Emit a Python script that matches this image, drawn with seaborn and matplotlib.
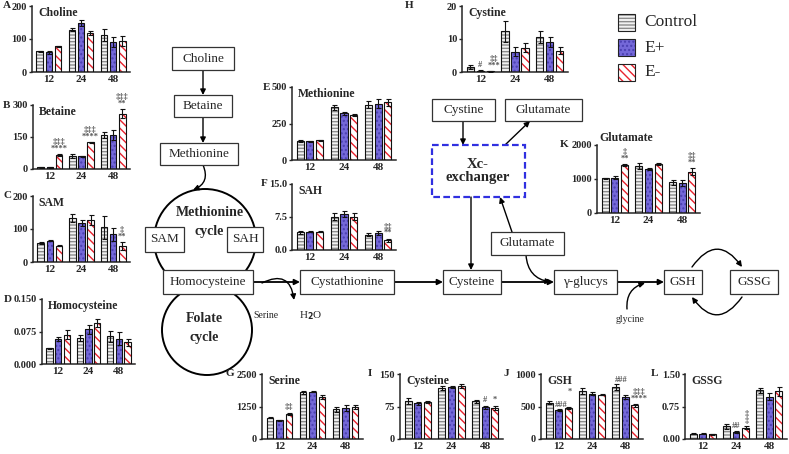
import numpy as np
import pandas as pd
import matplotlib
matplotlib.use("Agg")
import matplotlib.pyplot as plt
from matplotlib.patches import Rectangle, Circle
import seaborn as sns

# ---- data (means and SEM), order: 12 h, 24 h, 48 h ----
times = ["12", "24", "48"]
groups = ["Control", "E+", "E-"]

choline_ctrl, choline_ep, choline_em = [63, 128, 113], [60, 148, 91], [78, 118, 93]
choline_err = [[2, 5, 18], [5, 10, 15], [2, 5, 15]]

betaine_ctrl, betaine_ep, betaine_em = [8, 60, 160], [8, 60, 160], [65, 125, 260]
betaine_err = [[2, 10, 15], [2, 2, 25], [4, 3, 20]]

sam_ctrl, sam_ep, sam_em = [58, 132, 105], [65, 118, 84], [50, 127, 48]
sam_err = [[4, 12, 35], [2, 8, 20], [2, 15, 12]]

hcy_ctrl, hcy_ep, hcy_em = [0.036, 0.060, 0.064], [0.058, 0.080, 0.058], [0.068, 0.095, 0.050]
hcy_err = [[0.002, 0.007, 0.013], [0.005, 0.010, 0.015], [0.010, 0.010, 0.008]]

met_ctrl, met_ep, met_em = [130, 360, 380], [128, 320, 385], [135, 310, 395]
met_err = [[5, 15, 25], [4, 10, 30], [5, 8, 25]]

sah_ctrl, sah_ep, sah_em = [4.0, 7.6, 3.5], [4.2, 8.2, 3.8], [4.2, 7.6, 2.2]
sah_err = [[0.3, 0.8, 0.4], [0.2, 0.7, 0.5], [0.2, 0.8, 0.4]]

cystine_ctrl, cystine_ep, cystine_em = [1.5, 12.3, 10.6], [0.4, 6.2, 9.2], [0.2, 7.4, 6.5]
cystine_err = [[0.5, 3.3, 1.8], [0.2, 1.5, 1.5], [0.1, 1.3, 1.0]]

glu_ctrl, glu_ep, glu_em = [1020, 1380, 900], [1040, 1300, 880], [1420, 1440, 1220]
glu_err = [[20, 80, 80], [40, 30, 80], [30, 20, 100]]

ser_ctrl, ser_ep, ser_em = [820, 1800, 1150], [720, 1820, 1180], [970, 1600, 1220]
ser_err = [[30, 60, 100], [15, 20, 120], [40, 80, 80]]

cys_ctrl, cys_ep, cys_em = [87, 118, 87], [82, 120, 73], [85, 122, 72]
cys_err = [[7, 5, 4], [3, 2, 4], [2, 4, 5]]

gsh_ctrl, gsh_ep, gsh_em = [560, 740, 800], [450, 700, 640], [480, 680, 520]
gsh_err = [[20, 40, 40], [15, 30, 30], [15, 10, 20]]

gssg_ctrl, gssg_ep, gssg_em = [0.12, 0.29, 1.12], [0.12, 0.16, 0.98], [0.11, 0.26, 1.10]
gssg_err = [[0.01, 0.05, 0.06], [0.01, 0.02, 0.08], [0.01, 0.04, 0.10]]

W, H = 789, 454

sns.set_style("ticks")
plt.rcParams["font.family"] = ["Liberation Serif", "DejaVu Serif"]
plt.rcParams["font.weight"] = "bold"
plt.rcParams["hatch.linewidth"] = 1.0

face = {"Control": "#f2f2f2", "E+": "#7468d8", "E-": "white"}
hatchc = {"Control": "#8c8c8c", "E+": "#4a3fb0", "E-": "#e8222d"}
hatches = {"Control": "-----", "E+": "....", "E-": "\\\\\\\\"}

fig = plt.figure(figsize=(W / 100, H / 100), dpi=100)

# ---------------- pathway diagram (background axes in pixel units) ----------------
dax = fig.add_axes([0, 0, 1, 1], zorder=0)
dax.set_xlim(0, W)
dax.set_ylim(H, 0)
dax.axis("off")


def box(x0, y0, x1, y1, text, size=9.5):
    dax.add_patch(Rectangle((x0, y0), x1 - x0, y1 - y0, fc="white", ec="#333333", lw=0.9, zorder=3))
    dax.text((x0 + x1) / 2, (y0 + y1) / 2, text, ha="center", va="center",
             fontsize=size, fontweight="normal", zorder=4)


def arrow(p0, p1, rad=0.0, lw=1.0):
    dax.annotate("", xy=p1, xytext=p0,
                 arrowprops=dict(arrowstyle="-|>", color="black", lw=lw, mutation_scale=8,
                                 shrinkA=0, shrinkB=0, connectionstyle=f"arc3,rad={rad}"),
                 zorder=2)


dax.add_patch(Circle((205, 240), 51, fill=False, ec="black", lw=1.4, zorder=1))
dax.add_patch(Circle((207, 330), 45, fill=False, ec="black", lw=1.4, zorder=1))
dax.text(210, 213, "Methionine", ha="center", va="center", fontsize=10, fontweight="bold", zorder=4)
dax.text(209, 232, "cycle", ha="center", va="center", fontsize=10, fontweight="bold", zorder=4)
dax.text(204, 319, "Folate", ha="center", va="center", fontsize=10, fontweight="bold", zorder=4)
dax.text(204, 338, "cycle", ha="center", va="center", fontsize=10, fontweight="bold", zorder=4)

box(172, 47, 234, 70, "Choline")
box(174, 95, 232, 117, "Betaine")
box(160, 143, 238, 165, "Methionine")
arrow((203, 70), (203, 95))
arrow((203, 117), (203, 143))
arrow((203, 165), (193, 190), rad=-0.5)
box(145, 227, 184, 252, "SAM")
box(227, 227, 263, 252, "SAH")

row0, row1 = 270, 294
rowc = (row0 + row1) / 2
box(163, row0, 253, row1, "Homocysteine")
box(300, row0, 394, row1, "Cystathionine")
box(443, row0, 501, row1, "Cysteine")
box(554, row0, 617, row1, "\u03b3-glucys")
box(664, row0, 702, row1, "GSH")
box(730, row0, 778, row1, "GSSG")
arrow((253, rowc), (300, rowc), lw=1.3)
arrow((394, rowc), (443, rowc), lw=1.3)
arrow((501, rowc), (554, rowc), lw=1.3)
arrow((617, rowc), (664, rowc), lw=1.3)
arrow((692, row0 - 3), (742, row0 - 3), rad=-0.7)
arrow((742, row1 + 3), (692, row1 + 3), rad=-0.7)
arrow((262, rowc + 1), (294, 300), rad=-0.7)
dax.text(266, 316, "Serine", ha="center", va="center", fontsize=7, fontweight="normal")
dax.text(311, 316, "H$_2$O", ha="center", va="center", fontsize=8, fontweight="normal")
dax.text(630, 320, "glycine", ha="center", va="center", fontsize=7, fontweight="normal")
arrow((627, 309), (645, rowc + 1), rad=-0.4)

box(432, 99, 495, 121, "Cystine")
box(505, 99, 582, 121, "Glutamate")
dax.add_patch(Rectangle((432, 145), 93, 52, fill=False, ec="#3030e0", lw=1.6, ls=(0, (3, 1.5)), zorder=3))
dax.text(478, 171, "Xc-\nexchanger", ha="center", va="center", fontsize=10.5, fontweight="bold",
         linespacing=1.1, zorder=4)
arrow((463, 121), (463, 145))
arrow((505, 145), (530, 121))
arrow((471, 197), (471, row0))
box(491, 232, 564, 255, "Glutamate")
arrow((512, 232), (500, 197))
arrow((526, 255), (551, rowc), rad=0.4)

# legend
for i, g in enumerate(groups):
    y0 = 14 + 25 * i
    dax.add_patch(Rectangle((618, y0), 17, 17, fc=face[g], ec=hatchc[g], lw=0, hatch=hatches[g], zorder=3))
    dax.add_patch(Rectangle((618, y0), 17, 17, fill=False, ec="#222222", lw=0.8, zorder=4))
    dax.text(644, y0 + 8.5, g, ha="left", va="center", fontsize=12.5, fontweight="normal")


# ---------------- bar panels ----------------
def panel(rect, letter, letter_x, title, ctrl, ep, em, err, ymax, ticklabels, notes=(), title_above=False):
    x0, y0, x1, y1 = rect
    ax = fig.add_axes([x0 / W, 1 - y1 / H, (x1 - x0) / W, (y1 - y0) / H], zorder=2)
    ax.patch.set_alpha(0)
    df = pd.DataFrame({"time": times * 3,
                       "group": np.repeat(groups, 3),
                       "value": list(ctrl) + list(ep) + list(em)})
    sns.barplot(data=df, x="time", y="value", hue="group", order=times, hue_order=groups,
                errorbar=None, width=0.86, gap=0.28, legend=False, ax=ax,
                palette=[face[g] for g in groups])
    bar_sets = list(ax.containers)[:3]
    for gi, cont in enumerate(bar_sets):
        g = groups[gi]
        for ti, bar in enumerate(cont):
            bar.set_facecolor(face[g])
            bar.set_edgecolor(hatchc[g])
            bar.set_linewidth(0)
            bar.set_hatch(hatches[g])
            ax.add_patch(Rectangle((bar.get_x(), 0), bar.get_width(), bar.get_height(),
                                   fill=False, ec="#111111", lw=0.8, zorder=3))
            cx = bar.get_x() + bar.get_width() / 2
            ax.errorbar(cx, bar.get_height(), yerr=err[gi][ti], fmt="none", ecolor="#111111",
                        elinewidth=0.8, capsize=1.8, capthick=0.8, zorder=4)
    for note in notes:
        ti, gi, txt = note[:3]
        dx, dy = note[3] if len(note) > 3 else (0, 1)
        bar = bar_sets[gi][ti]
        cx = bar.get_x() + bar.get_width() / 2
        ax.annotate(txt, (cx, bar.get_height() + err[gi][ti]), xytext=(dx, dy),
                    textcoords="offset points", ha="center", va="bottom", fontsize=6,
                    color="#555555", linespacing=0.75, annotation_clip=False)
    ax.set_ylim(0, ymax)
    ax.set_yticks([0, ymax / 2, ymax])
    ax.set_yticklabels(ticklabels)
    ax.set_xlabel("")
    ax.set_ylabel("")
    sns.despine(ax=ax)
    for s in ("left", "bottom"):
        ax.spines[s].set_linewidth(1.1)
    ax.tick_params(axis="y", length=2.5, width=1, pad=1, labelsize=7.5)
    ax.tick_params(axis="x", length=0, pad=2, labelsize=8)
    for lab in ax.get_xticklabels() + ax.get_yticklabels():
        lab.set_fontweight("bold")
    if title_above:
        ax.text(0.02, 1.02, title, transform=ax.transAxes, ha="left", va="bottom",
                fontsize=8.5, fontweight="bold")
    else:
        ax.text(0.06, 0.98, title, transform=ax.transAxes, ha="left", va="top",
                fontsize=8.5, fontweight="bold")
    fig.text(letter_x / W, 1 - y0 / H, letter, ha="left", va="center", fontsize=8, fontweight="bold")
    return ax


panel((32, 6, 130, 72), "A", 3, "Choline", choline_ctrl, choline_ep, choline_em, choline_err,
      200, ["0", "100", "200"])
panel((33, 105, 130, 169), "B", 3, "Betaine", betaine_ctrl, betaine_ep, betaine_em, betaine_err,
      300, ["0", "150", "300"],
      notes=[(0, 2, "\u2021\u2021\u2021\n****"), (1, 2, "\u2021\u2021\u2021\n****"), (2, 2, "\u2021\u2021\u2021\n**")])
panel((33, 196, 130, 262), "C", 3, "SAM", sam_ctrl, sam_ep, sam_em, sam_err,
      200, ["0", "100", "200"], notes=[(2, 2, "\u2021\n**")])
panel((42, 299, 135, 364), "D", 4, "Homocysteine", hcy_ctrl, hcy_ep, hcy_em, hcy_err,
      0.150, ["0.000", "0.075", "0.150"])
panel((292, 87, 396, 160), "E", 263, "Methionine", met_ctrl, met_ep, met_em, met_err,
      500, ["0", "250", "500"])
panel((292, 184, 396, 250), "F", 261, "SAH", sah_ctrl, sah_ep, sah_em, sah_err,
      15.0, ["0.0", "7.5", "15.0"], notes=[(2, 2, "\u2021\u2021\n**")])
panel((462, 6, 568, 72), "H", 405, "Cystine", cystine_ctrl, cystine_ep, cystine_em, cystine_err,
      20, ["0", "10", "20"], notes=[(0, 1, "#"), (0, 2, "\u2021\u2021\n***", (3, 1))])
panel((597, 145, 700, 213), "K", 560, "Glutamate", glu_ctrl, glu_ep, glu_em, glu_err,
      2000, ["0", "1000", "2000"], notes=[(0, 2, "\u2021\n**"), (2, 2, "\u2021\u2021\n**")],
      title_above=True)
panel((262, 374, 363, 439), "G", 226, "Serine", ser_ctrl, ser_ep, ser_em, ser_err,
      2500, ["0", "1250", "2500"], notes=[(0, 2, "\u2021\u2021")])
panel((400, 374, 503, 439), "I", 368, "Cysteine", cys_ctrl, cys_ep, cys_em, cys_err,
      150, ["0", "75", "150"], notes=[(2, 1, "#"), (2, 2, "*")])
panel((541, 374, 643, 439), "J", 503, "GSH", gsh_ctrl, gsh_ep, gsh_em, gsh_err,
      1000, ["0", "500", "1000"],
      notes=[(0, 1, "###", (2, 0)), (0, 2, "*", (1, 8)), (2, 1, "###", (-3, 8)),
             (2, 2, "\u2021\u2021\u2021\n****", (3, 1))])
panel((685, 374, 787, 439), "L", 651, "GSSG", gssg_ctrl, gssg_ep, gssg_em, gssg_err,
      1.50, ["0.00", "0.75", "1.50"], notes=[(1, 1, "##"), (1, 2, "\u2021\n\u2021", (1, 1))])

fig.savefig("out.png", dpi=100)
